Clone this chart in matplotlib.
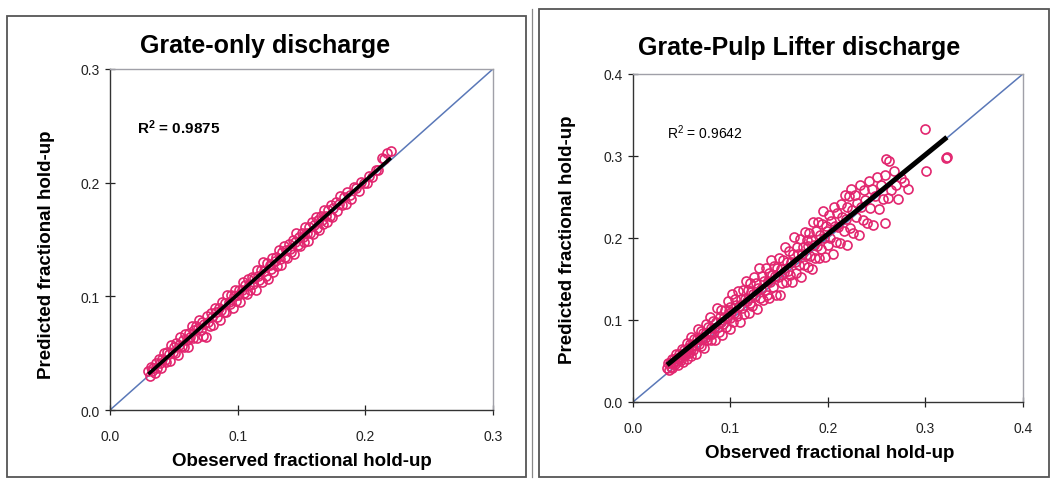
"""
Parity plots of predicted vs observed fractional hold-up for two discharge types.
"""
import matplotlib
matplotlib.use("Agg")
import matplotlib.pyplot as plt
import matplotlib.ticker as ticker
from matplotlib.patches import Rectangle
import numpy as np

plt.rcParams.update({
    "font.family": ["Liberation Sans", "DejaVu Sans"],
    "font.size": 10,
    "mathtext.fontset": "custom",
    "mathtext.rm": "Liberation Sans",
    "mathtext.bf": "Liberation Sans:bold",
})

# ── Grate-only discharge ────────────────────────────────────────────────────
grate_obs = [
    0.030, 0.031, 0.032, 0.033, 0.034, 0.035, 0.036, 0.037, 0.038, 0.039,
    0.040, 0.041, 0.042, 0.043, 0.044, 0.045, 0.046, 0.047, 0.048, 0.049,
    0.050, 0.051, 0.052, 0.053, 0.054, 0.055, 0.056, 0.057, 0.058, 0.059,
    0.060, 0.061, 0.062, 0.063, 0.064, 0.065, 0.066, 0.067, 0.068, 0.069,
    0.070, 0.071, 0.072, 0.073, 0.074, 0.075, 0.076, 0.077, 0.078, 0.079,
    0.080, 0.081, 0.082, 0.083, 0.084, 0.085, 0.086, 0.087, 0.088, 0.089,
    0.090, 0.091, 0.092, 0.093, 0.094, 0.095, 0.096, 0.097, 0.098, 0.099,
    0.100, 0.101, 0.102, 0.103, 0.104, 0.105, 0.106, 0.107, 0.108, 0.109,
    0.110, 0.111, 0.112, 0.113, 0.114, 0.115, 0.116, 0.117, 0.118, 0.119,
    0.120, 0.121, 0.122, 0.123, 0.124, 0.125, 0.126, 0.127, 0.128, 0.129,
    0.130, 0.131, 0.132, 0.133, 0.134, 0.135, 0.136, 0.137, 0.138, 0.139,
    0.140, 0.141, 0.142, 0.143, 0.144, 0.145, 0.146, 0.147, 0.148, 0.149,
    0.150, 0.151, 0.152, 0.153, 0.154, 0.155, 0.156, 0.157, 0.158, 0.159,
    0.160, 0.161, 0.162, 0.163, 0.164, 0.165, 0.166, 0.167, 0.168, 0.169,
    0.170, 0.171, 0.172, 0.173, 0.174, 0.175, 0.177, 0.178, 0.179, 0.180,
    0.182, 0.183, 0.185, 0.186, 0.188, 0.189, 0.191, 0.193, 0.195, 0.197,
    0.199, 0.201, 0.203, 0.205, 0.208, 0.210, 0.213, 0.215, 0.217, 0.220,
]
grate_pred = [
    0.034, 0.030, 0.038, 0.034, 0.037, 0.033, 0.041, 0.037, 0.045, 0.041,
    0.037, 0.045, 0.050, 0.044, 0.042, 0.051, 0.049, 0.043, 0.057, 0.051,
    0.055, 0.050, 0.059, 0.048, 0.057, 0.064, 0.056, 0.062, 0.055, 0.067,
    0.062, 0.055, 0.068, 0.064, 0.074, 0.063, 0.070, 0.074, 0.063, 0.072,
    0.079, 0.070, 0.077, 0.065, 0.076, 0.064, 0.083, 0.077, 0.074, 0.085,
    0.082, 0.075, 0.090, 0.086, 0.082, 0.090, 0.079, 0.088, 0.095, 0.086,
    0.094, 0.086, 0.101, 0.095, 0.093, 0.101, 0.090, 0.100, 0.106, 0.096,
    0.101, 0.106, 0.095, 0.106, 0.113, 0.103, 0.110, 0.102, 0.115, 0.110,
    0.106, 0.117, 0.111, 0.116, 0.106, 0.123, 0.118, 0.114, 0.123, 0.113,
    0.130, 0.122, 0.118, 0.129, 0.115, 0.128, 0.124, 0.134, 0.121, 0.131,
    0.135, 0.127, 0.141, 0.133, 0.128, 0.139, 0.144, 0.135, 0.141, 0.134,
    0.146, 0.142, 0.139, 0.150, 0.137, 0.148, 0.156, 0.145, 0.152, 0.144,
    0.156, 0.152, 0.148, 0.161, 0.156, 0.149, 0.161, 0.156, 0.165, 0.155,
    0.163, 0.170, 0.160, 0.167, 0.158, 0.171, 0.167, 0.164, 0.176, 0.171,
    0.165, 0.176, 0.171, 0.180, 0.170, 0.178, 0.183, 0.175, 0.181, 0.188,
    0.180, 0.187, 0.181, 0.192, 0.189, 0.186, 0.196, 0.195, 0.193, 0.201,
    0.200, 0.200, 0.206, 0.205, 0.211, 0.211, 0.222, 0.221, 0.226, 0.228,
]

# ── Grate-Pulp Lifter discharge ─────────────────────────────────────────────
pulp_obs = [
    0.035, 0.036, 0.037, 0.038, 0.039, 0.040, 0.040, 0.041, 0.042, 0.043,
    0.044, 0.045, 0.045, 0.046, 0.047, 0.048, 0.049, 0.050, 0.050, 0.051,
    0.052, 0.053, 0.054, 0.055, 0.055, 0.056, 0.057, 0.058, 0.059, 0.060,
    0.060, 0.061, 0.062, 0.063, 0.064, 0.065, 0.066, 0.067, 0.068, 0.069,
    0.070, 0.070, 0.071, 0.072, 0.073, 0.074, 0.075, 0.075, 0.076, 0.077,
    0.078, 0.079, 0.080, 0.080, 0.081, 0.082, 0.083, 0.084, 0.085, 0.086,
    0.087, 0.088, 0.089, 0.090, 0.090, 0.091, 0.092, 0.093, 0.094, 0.095,
    0.096, 0.097, 0.098, 0.099, 0.100, 0.100, 0.101, 0.102, 0.103, 0.104,
    0.105, 0.106, 0.107, 0.108, 0.109, 0.110, 0.111, 0.112, 0.113, 0.114,
    0.115, 0.116, 0.117, 0.118, 0.119, 0.120, 0.120, 0.121, 0.122, 0.123,
    0.124, 0.125, 0.126, 0.127, 0.128, 0.129, 0.130, 0.131, 0.132, 0.133,
    0.134, 0.135, 0.136, 0.137, 0.138, 0.139, 0.140, 0.141, 0.142, 0.143,
    0.144, 0.145, 0.146, 0.147, 0.148, 0.149, 0.150, 0.151, 0.152, 0.153,
    0.154, 0.155, 0.156, 0.157, 0.158, 0.159, 0.160, 0.161, 0.162, 0.163,
    0.164, 0.165, 0.166, 0.167, 0.168, 0.169, 0.170, 0.171, 0.172, 0.173,
    0.174, 0.175, 0.176, 0.177, 0.178, 0.179, 0.180, 0.181, 0.182, 0.183,
    0.184, 0.185, 0.186, 0.187, 0.188, 0.189, 0.190, 0.191, 0.192, 0.193,
    0.194, 0.195, 0.196, 0.197, 0.198, 0.199, 0.200, 0.201, 0.202, 0.203,
    0.205, 0.206, 0.207, 0.208, 0.209, 0.210, 0.212, 0.213, 0.214, 0.216,
    0.217, 0.218, 0.219, 0.220, 0.222, 0.223, 0.224, 0.225, 0.226, 0.228,
    0.229, 0.230, 0.232, 0.233, 0.234, 0.236, 0.237, 0.238, 0.240, 0.242,
    0.243, 0.245, 0.246, 0.248, 0.250, 0.252, 0.254, 0.256, 0.258, 0.259,
    0.260, 0.262, 0.263, 0.265, 0.268, 0.270, 0.272, 0.275, 0.278, 0.282,
    0.300, 0.301, 0.321, 0.322,
]
pulp_pred = [
    0.041, 0.047, 0.039, 0.047, 0.043, 0.053, 0.041, 0.048, 0.052, 0.046,
    0.058, 0.050, 0.054, 0.045, 0.059, 0.054, 0.051, 0.065, 0.058, 0.049,
    0.063, 0.057, 0.061, 0.072, 0.052, 0.066, 0.060, 0.071, 0.065, 0.056,
    0.079, 0.070, 0.063, 0.077, 0.069, 0.059, 0.077, 0.089, 0.071, 0.077,
    0.068, 0.086, 0.077, 0.084, 0.066, 0.078, 0.095, 0.084, 0.075, 0.091,
    0.083, 0.104, 0.075, 0.090, 0.083, 0.099, 0.090, 0.076, 0.097, 0.114,
    0.091, 0.085, 0.104, 0.098, 0.112, 0.082, 0.095, 0.104, 0.112, 0.091,
    0.102, 0.123, 0.111, 0.089, 0.102, 0.116, 0.110, 0.132, 0.097, 0.109,
    0.125, 0.118, 0.105, 0.135, 0.117, 0.098, 0.126, 0.115, 0.136, 0.107,
    0.125, 0.148, 0.123, 0.136, 0.108, 0.121, 0.145, 0.134, 0.117, 0.132,
    0.153, 0.129, 0.145, 0.113, 0.139, 0.163, 0.127, 0.138, 0.154, 0.124,
    0.148, 0.137, 0.163, 0.131, 0.148, 0.157, 0.127, 0.146, 0.173, 0.155,
    0.140, 0.166, 0.154, 0.131, 0.163, 0.152, 0.176, 0.130, 0.162, 0.145,
    0.173, 0.159, 0.189, 0.146, 0.171, 0.160, 0.184, 0.155, 0.171, 0.146,
    0.181, 0.201, 0.171, 0.157, 0.189, 0.180, 0.167, 0.199, 0.153, 0.180,
    0.189, 0.167, 0.207, 0.179, 0.197, 0.165, 0.190, 0.206, 0.178, 0.197,
    0.162, 0.219, 0.192, 0.176, 0.208, 0.190, 0.219, 0.175, 0.204, 0.187,
    0.217, 0.233, 0.200, 0.177, 0.214, 0.208, 0.191, 0.228, 0.200, 0.221,
    0.181, 0.238, 0.214, 0.195, 0.231, 0.213, 0.194, 0.241, 0.226, 0.209,
    0.252, 0.223, 0.192, 0.238, 0.251, 0.212, 0.260, 0.234, 0.206, 0.252,
    0.226, 0.243, 0.204, 0.264, 0.238, 0.222, 0.259, 0.246, 0.218, 0.269,
    0.237, 0.260, 0.216, 0.251, 0.274, 0.235, 0.264, 0.248, 0.218, 0.277,
    0.296, 0.249, 0.294, 0.258, 0.282, 0.265, 0.248, 0.273, 0.268, 0.260,
    0.333, 0.282, 0.297, 0.299,
]

POINT_COLOR = "#e2266f"
DIAG_COLOR = "#5a78b8"
FRAME_COLOR = "#555555"
PLOT_EDGE = "#a0a0a8"


def draw_parity(ax, obs, pred, limit, step, r2_text, r2_bold, r2_pos, trend_lw):
    obs = np.asarray(obs)
    pred = np.asarray(pred)

    ax.plot([0, limit], [0, limit], color=DIAG_COLOR, linewidth=1.1, zorder=1)
    ax.plot(obs, pred, linestyle="none", marker="o", markersize=6.5,
            markerfacecolor="none", markeredgecolor=POINT_COLOR,
            markeredgewidth=1.2, zorder=2)

    slope, intercept = np.polyfit(obs, pred, 1)
    xs = np.array([obs.min(), obs.max()])
    ax.plot(xs, slope * xs + intercept, color="black", linewidth=trend_lw,
            solid_capstyle="butt", zorder=3)

    ax.set_xlim(0, limit)
    ax.set_ylim(0, limit)
    ax.xaxis.set_major_locator(ticker.MultipleLocator(step))
    ax.yaxis.set_major_locator(ticker.MultipleLocator(step))
    ax.xaxis.set_major_formatter(ticker.FormatStrFormatter("%.1f"))
    ax.yaxis.set_major_formatter(ticker.FormatStrFormatter("%.1f"))
    ax.tick_params(direction="inout", length=7, width=0.9, labelsize=10,
                   colors="#222222", pad=4)
    ax.tick_params(axis="x", pad=10)

    for side in ("left", "bottom"):
        ax.spines[side].set_color("#333333")
        ax.spines[side].set_linewidth(1.0)
    for side in ("top", "right"):
        ax.spines[side].set_color(PLOT_EDGE)
        ax.spines[side].set_linewidth(1.0)

    ax.text(r2_pos[0], r2_pos[1], r2_text, transform=ax.transAxes,
            fontsize=11 if r2_bold else 10,
            fontweight="bold" if r2_bold else "normal", ha="left", va="center")


fig = plt.figure(figsize=(10.52, 4.81), dpi=100)

ax1 = fig.add_axes([0.1046, 0.1455, 0.3640, 0.7090])
draw_parity(ax1, grate_obs, grate_pred, 0.3, 0.1,
            r"$\mathbf{R^2}$ = 0.9875", True, (0.07, 0.83), 2.6)

ax2 = fig.add_axes([0.6017, 0.1622, 0.3707, 0.6820])
draw_parity(ax2, pulp_obs, pulp_pred, 0.4, 0.1,
            r"R$^2$ = 0.9642", False, (0.087, 0.823), 3.6)

# titles and axis labels placed to match the original layout
fig.text(265 / 1052, 1 - 46 / 481, "Grate-only discharge", ha="center", va="center",
         fontsize=18, fontweight="bold")
fig.text(799 / 1052, 1 - 48 / 481, "Grate-Pulp Lifter discharge", ha="center", va="center",
         fontsize=18, fontweight="bold")
fig.text(302 / 1052, 1 - 462 / 481, "Obeserved fractional hold-up", ha="center", va="center",
         fontsize=13.5, fontweight="bold")
fig.text(830 / 1052, 1 - 454 / 481, "Observed fractional hold-up", ha="center", va="center",
         fontsize=13.5, fontweight="bold")
fig.text(47 / 1052, 1 - 255 / 481, "Predicted fractional hold-up", ha="center", va="center",
         rotation=90, fontsize=13.5, fontweight="bold")
fig.text(567 / 1052, 1 - 240 / 481, "Predicted fractional hold-up", ha="center", va="center",
         rotation=90, fontsize=13.5, fontweight="bold")

# chart-area borders around each panel
fig.patches.append(Rectangle((7 / 1052, 3 / 481), 519 / 1052, 461 / 481,
                             transform=fig.transFigure, fill=False,
                             edgecolor=FRAME_COLOR, linewidth=1.3))
fig.patches.append(Rectangle((539 / 1052, 3 / 481), 510 / 1052, 468 / 481,
                             transform=fig.transFigure, fill=False,
                             edgecolor=FRAME_COLOR, linewidth=1.3))
fig.add_artist(plt.Line2D([532 / 1052, 532 / 1052], [3 / 481, 471 / 481],
                          transform=fig.transFigure, color="#888888", linewidth=0.9))

fig.savefig("out.png", dpi=100, facecolor="white")
plt.close(fig)
